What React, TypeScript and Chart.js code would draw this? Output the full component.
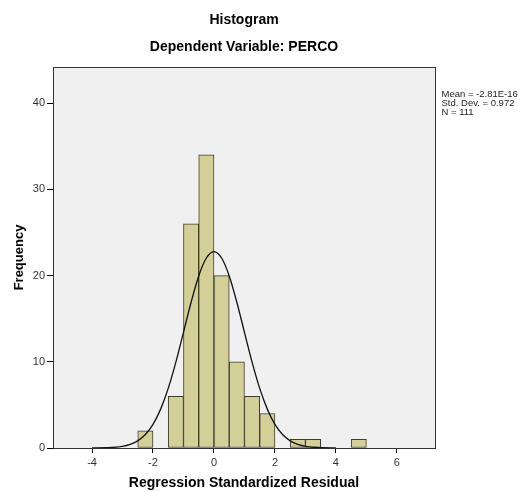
import React, { useEffect, useRef } from "react";
import { Chart, registerables } from "chart.js";

Chart.register(...registerables);

// Histogram bins (centers, width 0.5) and frequencies
const binCenters = [-2.25, -1.75, -1.25, -0.75, -0.25, 0.25, 0.75, 1.25, 1.75, 2.25, 2.75, 3.25, 3.75, 4.25, 4.75];
const frequencies = [2, 0, 6, 26, 34, 20, 10, 6, 4, 0, 1, 1, 0, 0, 1];

// Normal curve
const curveX = [-4, -3.5, -3, -2.75, -2.5, -2.25, -2, -1.75, -1.5, -1.25, -1, -0.75, -0.5, -0.25, 0, 0.25, 0.5, 0.75, 1, 1.25, 1.5, 1.75, 2, 2.25, 2.5, 2.75, 3, 3.5, 4];
const curveY = [0.01, 0.035, 0.19, 0.42, 0.83, 1.56, 2.74, 4.51, 6.92, 9.96, 13.42, 16.91, 19.96, 22.04, 22.78, 22.04, 19.96, 16.91, 13.42, 9.96, 6.92, 4.51, 2.74, 1.56, 0.83, 0.42, 0.19, 0.035, 0.01];

const xTicks = [-4, -2, 0, 2, 4, 6];
const yTicks = [0, 10, 20, 30, 40];
const statsLines = ["Mean = -2.81E-16", "Std. Dev. = 0.972", "N = 111"];

const FONT = "'Liberation Sans', Arial, sans-serif";

export default function App() {
  const ref = useRef<HTMLCanvasElement>(null);
  useEffect(() => {
    if (!ref.current) return;
    const bgPlugin = {
      id: "bgFrame",
      beforeDatasetsDraw(chart: any) {
        const { ctx, chartArea: a } = chart;
        ctx.save();
        ctx.fillStyle = "#f0f0f0";
        ctx.fillRect(a.left, a.top, a.right - a.left, a.bottom - a.top);
        ctx.restore();
      },
      afterDraw(chart: any) {
        const { ctx, chartArea: a } = chart;
        ctx.save();
        ctx.strokeStyle = "#333";
        ctx.lineWidth = 1;
        ctx.strokeRect(Math.round(a.left) + 0.5, Math.round(a.top) + 0.5, Math.round(a.right - a.left), Math.round(a.bottom - a.top));
        ctx.fillStyle = "#222";
        ctx.font = `9.5px ${FONT}`;
        ctx.textBaseline = "middle";
        ctx.textAlign = "left";
        statsLines.forEach((t, i) => ctx.fillText(t, a.right + 6.5, 94 + i * 9));
        ctx.restore();
      },
    };
    const chart = new Chart(ref.current, {
      type: "bar",
      data: {
        datasets: [
          {
            type: "line",
            data: curveX.map((x, i) => ({ x, y: curveY[i] })),
            borderColor: "#111",
            borderWidth: 1.3,
            pointRadius: 0,
            tension: 0.4,
            cubicInterpolationMode: "monotone",
            fill: false,
            order: 0,
          } as any,
          {
            type: "bar",
            data: binCenters.map((x, i) => ({ x, y: frequencies[i] === 0 ? null : frequencies[i] })),
            backgroundColor: "#d4cf98",
            borderColor: "#3e3c30",
            borderWidth: 1,
            borderSkipped: false,
            barPercentage: 1,
            categoryPercentage: 1,
            order: 1,
          } as any,
        ],
      },
      options: {
        animation: false,
        responsive: false,
        layout: { padding: { left: 0, right: 85, top: 0, bottom: 0 } },
        plugins: {
          legend: { display: false },
          tooltip: { enabled: false },
          title: {
            display: true,
            text: "Histogram",
            fullSize: false,
            color: "#000",
            font: { family: FONT, size: 14, weight: "bold" },
            padding: { top: 12, bottom: 10 },
          },
          subtitle: {
            display: true,
            text: "Dependent Variable: PERCO",
            fullSize: false,
            color: "#000",
            font: { family: FONT, size: 14, weight: "bold" },
            padding: { top: 0, bottom: 11.4 },
          },
        },
        scales: {
          x: {
            type: "linear",
            min: -5.28,
            max: 7.25,
            offset: false,
            afterBuildTicks: (s: any) => { s.ticks = xTicks.map((v) => ({ value: v })); },
            afterFit: (s: any) => { s.height = 44; },
            grid: { display: true, drawOnChartArea: false, drawTicks: true, tickLength: 5, color: "#000", offset: false },
            border: { display: true, color: "#000" },
            ticks: { color: "#333", font: { family: FONT, size: 11 }, padding: 3, maxRotation: 0 },
            title: {
              display: true,
              text: "Regression Standardized Residual",
              color: "#000",
              font: { family: FONT, size: 14, weight: "bold" },
              padding: { top: 0, bottom: 0 },
            },
          },
          y: {
            min: 0,
            max: 44.2,
            afterBuildTicks: (s: any) => { s.ticks = yTicks.map((v) => ({ value: v })); },
            afterFit: (s: any) => { s.width = 53; },
            grid: { display: true, drawOnChartArea: false, drawTicks: true, tickLength: 6, color: "#000" },
            border: { display: true, color: "#000" },
            ticks: { color: "#333", font: { family: FONT, size: 11 }, padding: 2 },
            title: {
              display: true,
              text: "Frequency",
              color: "#000",
              font: { family: FONT, size: 13, weight: "bold" },
              padding: { top: 12, bottom: 0 },
            },
          },
        },
      } as any,
      plugins: [bgPlugin],
    });
    return () => chart.destroy();
  }, []);
  return (
    <div style={{ position: "absolute", left: 0, top: 0, width: 520, height: 492, background: "#fff" }}>
      <canvas ref={ref} width={520} height={492} />
    </div>
  );
}
